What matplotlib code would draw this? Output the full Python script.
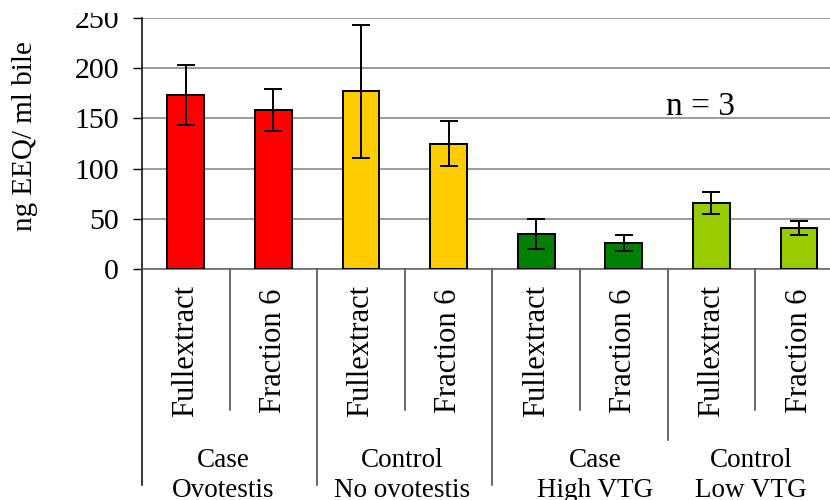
import matplotlib
matplotlib.use("Agg")
import matplotlib.pyplot as plt
import matplotlib.transforms as mtransforms
from matplotlib.patches import Rectangle
import numpy as np

plt.rcParams['font.family'] = ['Liberation Serif', 'DejaVu Serif']

# data
fractions = ['Fullextract', 'Fraction 6'] * 4
groups = ['Case\nOvotestis', 'Control\nNo ovotestis', 'Case\nHigh VTG', 'Control\nLow VTG']
means = [173, 158, 177, 125, 35, 26, 66, 41]
errs = [30, 21, 66, 22, 15, 8, 11, 7]
bar_colors = ['#ff0000', '#ff0000', '#ffcc00', '#ffcc00',
              '#008000', '#008000', '#99cc00', '#99cc00']
yticks = [0, 50, 100, 150, 200, 250]

fig = plt.figure(figsize=(8.3, 5.0), dpi=100)
ax = fig.add_axes([142 / 830, 231 / 500, 700.8 / 830, 251 / 500])

x = np.arange(len(means))
ax.bar(x, means, width=0.42, color=bar_colors, edgecolor='black',
       linewidth=1.4, zorder=3)
ax.errorbar(x, means, yerr=errs, fmt='none', ecolor='black',
            elinewidth=1.4, capsize=6.4, capthick=1.4, zorder=4)

ax.set_xlim(-0.5, 7.5)
ax.set_ylim(0, 250)
ax.set_yticks(yticks)
ax.yaxis.grid(True, color='#808080', linewidth=1.1, zorder=0)
ax.set_axisbelow(True)
ax.tick_params(axis='y', direction='out', length=6.5, width=1.0,
               labelsize=21.5, pad=10, colors='black')
ax.tick_params(axis='x', bottom=False, labelbottom=False)
for s in ['top', 'right']:
    ax.spines[s].set_visible(False)
ax.spines['left'].set_color('black')
ax.spines['left'].set_linewidth(1.1)
ax.spines['bottom'].set_color('#606060')
ax.spines['bottom'].set_linewidth(1.1)

ax.set_ylabel('ng EEQ/ ml bile', fontsize=21)
ax.yaxis.set_label_coords(-0.148, 0.53)

trans = mtransforms.blended_transform_factory(ax.transData, ax.transAxes)

# separators below the axis
for b in np.arange(-0.5, 8.0, 1.0):
    if b in (-0.5, 1.5, 3.5, 7.5):
        y_end = -0.861
    elif b == 5.5:
        y_end = -0.681
    else:
        y_end = -0.562
    col = 'black' if b == -0.5 else '#404040'
    ax.plot([b, b], [0, y_end], color=col, linewidth=1.1,
            transform=trans, clip_on=False)

# category labels
for xi, lab in zip(x, fractions):
    ax.text(xi, -0.327, lab, rotation=90, ha='center', va='center',
            fontsize=22, transform=trans)

# group labels
grp_offsets = [-0.075, -0.026, 0.171, -0.05]
for gi, (lab, off) in enumerate(zip(groups, grp_offsets)):
    top, bottom = lab.split('\n')
    gx = 2 * gi + 0.5 + off
    ax.text(gx, -0.789, top, ha='center', va='baseline', fontsize=19.5,
            transform=trans)
    ax.text(gx, -0.908, bottom, ha='center', va='baseline', fontsize=19.5,
            transform=trans)

ax.text(5.88, 162, 'n = 3', ha='center', va='center', fontsize=24)

# top of the picture is cropped in the reference
fig.patches.append(Rectangle((0, 1 - 13 / 500), 1, 13 / 500,
                             transform=fig.transFigure, facecolor='white',
                             edgecolor='none', zorder=10))

fig.savefig('out.png', dpi=100)
